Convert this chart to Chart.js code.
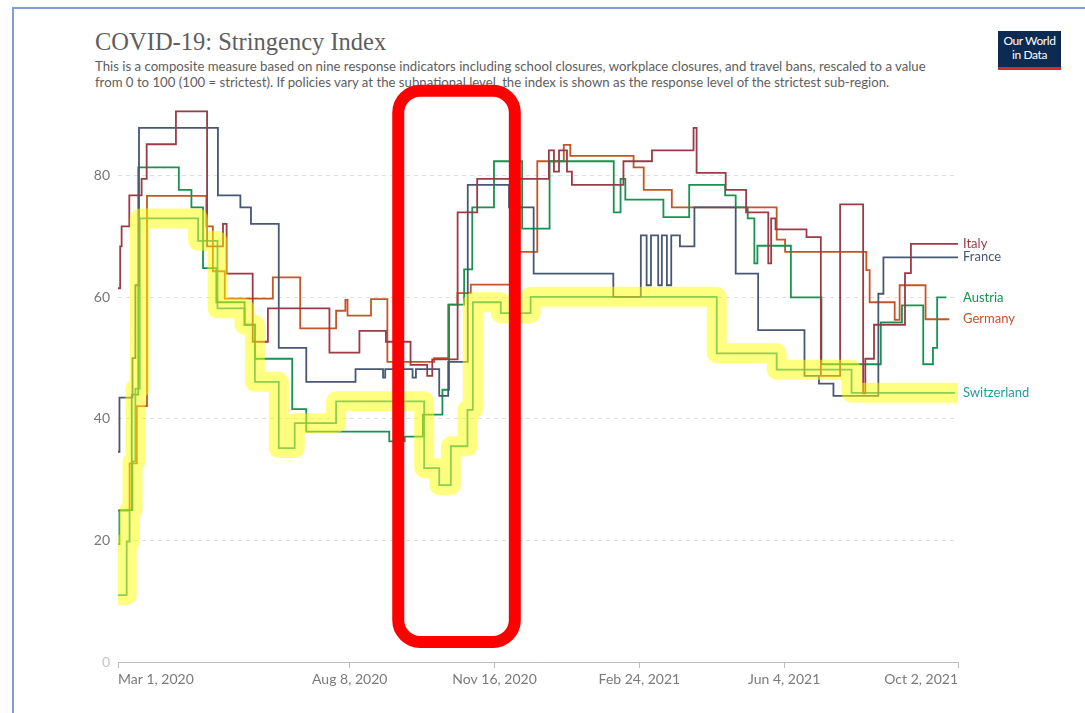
<!DOCTYPE html>
<html>
<head>
<meta charset="utf-8">
<script src="https://cdn.jsdelivr.net/npm/chart.js@4.4.1/dist/chart.umd.min.js"></script>
<style>
body { margin: 0; background: #fff; width: 1085px; height: 713px; overflow: hidden; position: relative; font-family: Lato, sans-serif; }
#frame { position: absolute; left: 12px; top: 7px; width: 1073px; height: 706px; border-top: 2px solid #7f9fd3; border-left: 2px solid #7f9fd3; }
#title { position: absolute; left: 95px; top: 28px; font-family: "Liberation Serif", serif; font-size: 24.5px; color: #5e5e5e; }
#sub { position: absolute; left: 95px; top: 58px; font-size: 13.2px; line-height: 16px; color: #5e5e5e; white-space: nowrap; }
#logo { position: absolute; left: 998px; top: 31px; width: 63px; height: 33px; background: #0d2b52; border-bottom: 3px solid #d42a2a; color: #fff; font-size: 12px; line-height: 14px; text-align: center; padding-top: 3px; box-sizing: content-box; letter-spacing: -0.4px; }
#wrap { position: absolute; left: 0; top: 0; width: 1085px; height: 713px; z-index: 2; }
</style>
</head>
<body>
<div id="frame"></div>
<div id="title">COVID-19: Stringency Index</div>
<div id="sub">This is a composite measure based on nine response indicators including school closures, workplace closures, and travel bans, rescaled to a value<br>from 0 to 100 (100 = strictest). If policies vary at the subnational level, the index is shown as the response level of the strictest sub-region.</div>
<div id="logo">Our World<br>in Data</div>
<div id="wrap"><canvas id="stringencyChart"></canvas></div>
<script>
// days since Mar 1, 2020
let tickDays = [0, 160, 260, 360, 460, 580];
let tickLabels = ["Mar 1, 2020", "Aug 8, 2020", "Nov 16, 2020", "Feb 24, 2021", "Jun 4, 2021", "Oct 2, 2021"];
let yTicks = [0, 20, 40, 60, 80];

let italyDays = [0, 1.5, 2.5, 7.8, 16.3, 19.8, 40, 61.5, 72.5, 75, 93, 103.5, 146, 166.7, 185, 202, 213.5, 217, 234.5, 248, 297.5, 301, 304.5, 310, 313.4, 349, 368.7, 397.4, 399.5, 419.6, 433.7, 449, 451, 454, 475.4, 485.3, 498.6, 514.5, 516, 522, 543.4, 547.5, 580];
let italyValues = [61.5, 68.4, 71.7, 76.8, 79.5, 85.2, 90.6, 68.4, 72.1, 63.9, 52.7, 58.2, 50.9, 54.5, 52.7, 48.9, 47.1, 49.8, 74, 79.5, 84.2, 80.7, 84.2, 80.7, 78.5, 82.4, 84.2, 87.9, 80.5, 77.7, 74, 65.6, 73, 71.2, 69.9, 47.1, 75.3, 44.2, 49.9, 55.5, 64, 68.8, 68.8];

let franceDays = [0, 1, 10, 12, 14.5, 69, 84.5, 91.8, 111, 130, 164, 183, 184.5, 203.4, 205.7, 221.8, 228, 241.5, 270, 287, 342, 361, 365, 368, 373, 375.5, 379, 382, 388, 398, 426.5, 442, 474, 484, 494, 525, 528.5, 580];
let franceValues = [34.6, 43.5, 50, 62, 87.9, 76.8, 74.8, 72.1, 51.7, 46.1, 48.2, 46.8, 48.2, 46.8, 48.2, 43.8, 49.4, 78.5, 74.8, 63.9, 60.1, 70.2, 62, 70.2, 62, 70.2, 62, 70.2, 68.4, 74.8, 63.9, 54.6, 47.1, 45.8, 43.8, 60.6, 66.6, 66.6];

let austriaDays = [0, 1, 9.5, 14, 42, 50.7, 58.7, 67.9, 87.4, 94.5, 120.3, 130, 187.3, 198, 210.5, 224, 228.6, 239, 244.6, 259.6, 279, 298, 342.3, 347, 350.3, 376.6, 394.4, 419.2, 426.5, 434.8, 439.4, 441.5, 464.6, 485.7, 526.7, 541.3, 556, 562.7, 565.6, 572];
let austriaValues = [19.4, 25, 44, 81.4, 77.7, 74.8, 64.8, 59.2, 55.5, 49.9, 41.6, 37.9, 36.3, 37.1, 40.7, 44.8, 58.8, 64.6, 74.8, 82.4, 71.3, 82.4, 74, 79.5, 76.1, 73.2, 78.5, 76.8, 74.8, 73, 65.6, 68.5, 60, 49, 55.9, 58.7, 49, 51.7, 60, 60];

let germanyDays = [0, 8, 13, 20, 61, 65.5, 73.7, 106.9, 125.8, 150.6, 157, 158.5, 174.7, 186, 218.3, 228, 234.4, 243.6, 272, 289.5, 307.8, 312.3, 356, 363, 382.4, 454.8, 460.6, 516.7, 519, 536.3, 539.7, 557.6, 574];
let germanyValues = [24.9, 32.7, 42.1, 76.7, 71.7, 64.3, 59.8, 63.3, 54.9, 57.8, 59.6, 57.0, 59.7, 49.4, 50, 58.8, 60.7, 62.1, 67.5, 82.4, 85.1, 83.3, 81.4, 77.7, 74.8, 69.5, 67.5, 64.5, 59.2, 56.3, 62, 56.4, 56.4];

let switzerlandDays = [0, 6, 8, 10, 12, 15, 55.3, 68.7, 87.4, 94.5, 111, 122, 150.6, 211.4, 221.8, 229.8, 241.3, 245, 264.3, 284.9, 413.4, 454.8, 506.5, 578];
let switzerlandValues = [11, 19.8, 25, 33, 45, 73, 69.3, 58.2, 55.5, 46.1, 35.2, 39.3, 42.9, 31.9, 29.1, 35.5, 41.5, 59.2, 57.4, 60.1, 50.8, 48.1, 44.3, 44.3];

// red annotation box, in days / index units
let boxDays = [193.5, 274];
let boxValues = [3.3, 94];

let series = [
    {name: "Italy", days: italyDays, values: italyValues, color: "#9b3b47"},
    {name: "France", days: franceDays, values: franceValues, color: "#475873"},
    {name: "Austria", days: austriaDays, values: austriaValues, color: "#17924f"},
    {name: "Germany", days: germanyDays, values: germanyValues, color: "#c45526"},
    {name: "Switzerland", days: switzerlandDays, values: switzerlandValues, color: "#1f9c9c"}
];

function toPoints(days, values){
    return days.map((d, i) => ({x: d, y: values[i]}));
}

let datasets = series.map(s => ({
    label: s.name,
    data: toPoints(s.days, s.values),
    borderColor: s.color,
    borderWidth: 1.8,
    stepped: true,
    pointRadius: 0,
    fill: false
}));

// yellow marker highlight over Switzerland
datasets.push({
    label: "highlight",
    data: toPoints(switzerlandDays, switzerlandValues),
    borderColor: "rgba(255,255,0,0.5)",
    borderWidth: 20,
    borderJoinStyle: "round",
    borderCapStyle: "round",
    stepped: true,
    pointRadius: 0,
    fill: false,
    order: -1
});

const endLabels = {
    id: 'endLabels',
    afterDatasetsDraw(chart){
        let ctx = chart.ctx;
        let area = chart.chartArea;
        ctx.save();
        ctx.font = '13px Lato';
        ctx.textBaseline = 'middle';
        ctx.textAlign = 'left';
        series.forEach(s => {
            let y = chart.scales.y.getPixelForValue(s.values[s.values.length - 1]);
            ctx.fillStyle = s.color;
            ctx.fillText(s.name, area.right + 5, y);
        });
        ctx.restore();
    }
};

const redBox = {
    id: 'redBox',
    afterDraw(chart){
        let ctx = chart.ctx;
        let x0 = chart.scales.x.getPixelForValue(boxDays[0]);
        let x1 = chart.scales.x.getPixelForValue(boxDays[1]);
        let y0 = chart.scales.y.getPixelForValue(boxValues[1]);
        let y1 = chart.scales.y.getPixelForValue(boxValues[0]);
        ctx.save();
        ctx.strokeStyle = '#ff0000';
        ctx.lineWidth = 12;
        ctx.beginPath();
        ctx.roundRect(x0, y0, x1 - x0, y1 - y0, 22);
        ctx.stroke();
        ctx.restore();
    }
};

let config = {
    type: 'line',
    data: {datasets: datasets},
    options: {
        responsive: true,
        maintainAspectRatio: false,
        animation: false,
        layout: {padding: {left: 50, right: 127, top: 109, bottom: 21}},
        plugins: {
            legend: {display: false},
            tooltip: {enabled: false}
        },
        scales: {
            x: {
                type: 'linear',
                min: 0,
                max: 580,
                afterBuildTicks: scale => { scale.ticks = tickDays.map(v => ({value: v})); },
                afterFit: scale => { scale.height = 30; },
                ticks: {
                    autoSkip: false,
                    maxRotation: 0,
                    align: 'inner',
                    padding: 3,
                    color: '#7a7a7a',
                    font: {family: 'Lato', size: 14},
                    callback: value => tickLabels[tickDays.indexOf(value)]
                },
                grid: {drawOnChartArea: false, drawTicks: true, tickLength: 6, color: '#bdbdbd'},
                border: {display: true, color: '#bdbdbd'}
            },
            y: {
                min: 0,
                max: 91,
                afterBuildTicks: scale => { scale.ticks = yTicks.map(v => ({value: v})); },
                afterFit: scale => { scale.width = 68; },
                ticks: {
                    padding: 8,
                    color: ctx => ctx.tick && ctx.tick.value === 0 ? '#c4c4c4' : '#777',
                    font: {family: 'Lato', size: 14}
                },
                grid: {color: '#dedede', drawTicks: false, lineWidth: 1},
                border: {display: false, dash: [4, 4]}
            }
        }
    },
    plugins: [endLabels, redBox]
};

let chartCtx = document.getElementById('stringencyChart').getContext('2d');
window.stringencyChart = new Chart(chartCtx, config);
</script>
</body>
</html>
